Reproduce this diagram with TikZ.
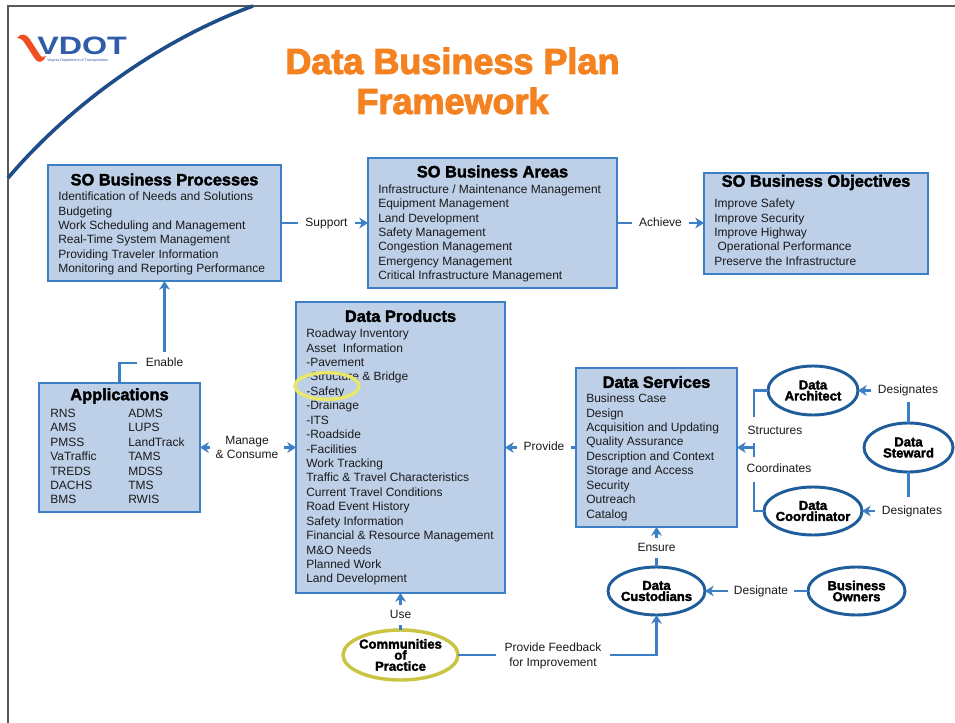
\documentclass[tikz,border=0pt]{standalone}
\usepackage{fontspec}
\setmainfont{Liberation Sans}
\newfontfamily\hd[BoldFeatures={FakeBold=2.2}]{Liberation Sans}
\newfontfamily\hdx[BoldFeatures={FakeBold=3}]{Liberation Sans}
\newfontfamily\lgf[FakeStretch=1.28]{Liberation Sans}
\usetikzlibrary{arrows.meta,shapes.geometric}
\definecolor{boxfill}{HTML}{BDD0E8}
\definecolor{boxline}{HTML}{3D7FC4}
\definecolor{ovalline}{HTML}{1F5C9A}
\definecolor{arcblue}{HTML}{1D4E89}
\definecolor{titleor}{HTML}{F58220}
\definecolor{txt}{HTML}{1A1A1A}
\definecolor{olive}{HTML}{C9C441}
\definecolor{hilite}{HTML}{E8E76C}
\definecolor{swoosh}{HTML}{EF4E23}
\definecolor{logoblue}{HTML}{2F5DA8}
\tikzset{
  x=0.75pt,y=-0.75pt,
  box/.style={draw=boxline,fill=boxfill,line width=2pt,outer sep=0pt,inner sep=0pt},
  hdg/.style={font=\hd\bfseries\fontsize{12.3}{14}\selectfont,text=black,inner sep=0pt},
  items/.style={font=\fontsize{9}{10.82}\selectfont,text=txt,align=left,anchor=north west,inner sep=0pt},
  oval/.style={ellipse,draw=ovalline,fill=white,line width=2.2pt,outer sep=0pt,inner sep=-8pt,
     font=\hd\bfseries\fontsize{9.8}{8.3}\selectfont,text=black,align=center},
  lab/.style={font=\fontsize{9}{10.8}\selectfont,text=txt,inner xsep=5pt,inner ysep=4pt,text height=7pt,text depth=2pt},
  lab2/.style={font=\fontsize{9}{10.82}\selectfont,text=txt,inner xsep=5pt,inner ysep=2pt,align=center},
  conn/.style={draw=boxline,line width=2.1pt},
  arr/.style={conn,-{Stealth[length=6.5pt,width=8pt,inset=2pt]}},
}
\begin{document}
\begin{tikzpicture}
\useasboundingbox (0,0) rectangle (955,723);
\fill[white] (0,0) rectangle (955,723);
% slide frame and arc
\draw[draw=black!65,line width=1.2pt] (8,723) -- (8,6) -- (955,6);
\draw[arcblue,line width=2.7pt] (8,178) .. controls (70,105) and (160,40) .. (253,6);
% logo
\fill[swoosh] (17,38) .. controls (20,33) and (26,34) .. (29,38) -- (40,55) .. controls (42,58) and (44,57) .. (46,56)
  .. controls (44,62) and (38,64) .. (35,59) -- (24,42) .. controls (22,39) and (19,38) .. (17,38) -- cycle;
\node[font=\lgf\bfseries\fontsize{18.9}{20}\selectfont,text=logoblue,inner sep=0pt,anchor=base west] (vdot) at (37,55) {VDOT};
\node[font=\fontsize{2.75}{3}\selectfont,text=logoblue,inner sep=0pt,anchor=west] (vdottag) at (47,60.5) {Virginia Department of Transportation};
% title
\node[font=\hdx\bfseries\fontsize{27}{30}\selectfont,text=titleor,align=center,inner sep=0pt] (title) at (452.5,81) {Data Business Plan\\Framework};
% boxes
\node[box,minimum width=174.75pt,minimum height=87pt] (bp) at (164.5,223) {};
\node[box,minimum width=186.75pt,minimum height=97.5pt] (ba) at (492.5,223) {};
\node[box,minimum width=168pt,minimum height=75.75pt] (bo) at (816,223.5) {};
\node[box,minimum width=120.75pt,minimum height=96.75pt] (apps) at (119.5,447.5) {};
\node[box,minimum width=156.75pt,minimum height=218.25pt] (dp) at (400.5,447.5) {};
\node[box,minimum width=120.75pt,minimum height=119.25pt] (ds) at (656.5,447.5) {};
% box texts
\node[hdg] (bph) at (164.5,179.5) {SO Business Processes};
\node[items] (bpi) at (58,190.3) {\strut Identification of Needs and Solutions\\Budgeting\\Work Scheduling and Management\\Real-Time System Management\\Providing Traveler Information\\Monitoring and Reporting Performance};
\node[hdg] (bah) at (492.5,171.5) {SO Business Areas};
\node[items] (bai) at (378,182.8) {\strut Infrastructure / Maintenance Management\\Equipment Management\\Land Development\\Safety Management\\Congestion Management\\Emergency Management\\Critical Infrastructure Management};
\node[hdg] (boh) at (816,182.5) {SO Business Objectives};
\node[items] (boi) at (714,197.3) {\strut Improve Safety\\Improve Security\\Improve Highway\\\hspace{2.5pt}Operational Performance\\Preserve the Infrastructure};
\node[hdg] (aph) at (119.5,396) {Applications};
\node[items] (api) at (50,407) {\strut RNS\\AMS\\PMSS\\VaTraffic\\TREDS\\DACHS\\BMS};
\node[items] (apj) at (128,407) {\strut ADMS\\LUPS\\LandTrack\\TAMS\\MDSS\\TMS\\RWIS};
\node[hdg] (dph) at (400.5,316) {Data Products};
\node[items] (dpi) at (306,327.3) {\strut Roadway Inventory\\Asset\ \ Information\\-Pavement\\-Structure \& Bridge\\-Safety\\-Drainage\\-ITS\\-Roadside\\-Facilities\\Work Tracking\\Traffic \& Travel Characteristics\\Current Travel Conditions\\Road Event History\\Safety Information\\Financial \& Resource Management\\M\&O Needs\\Planned Work\\Land Development};
\node[hdg] (dsh) at (656.5,382) {Data Services};
\node[items] (dsi) at (586,392.3) {\strut Business Case\\Design\\Acquisition and Updating\\Quality Assurance\\Description and Context\\Storage and Access\\Security\\Outreach\\Catalog};
% highlight
\node[ellipse,draw=hilite,line width=2.6pt,minimum width=48pt,minimum height=20pt,inner sep=-8pt] (safety) at (327,386) {};
% ovals
\node[oval,minimum width=67.5pt,minimum height=36.75pt] (arch) at (813,390.5) {Data\\Architect};
\node[oval,minimum width=66.75pt,minimum height=36.75pt] (stew) at (908.5,447.5) {Data\\Steward};
\node[oval,minimum width=73.5pt,minimum height=36pt] (coord) at (813,511) {Data\\Coordinator};
\node[oval,minimum width=72.75pt,minimum height=36pt] (cust) at (656.5,591) {Data\\Custodians};
\node[oval,minimum width=72.75pt,minimum height=36pt] (own) at (856.5,591) {Business\\Owners};
\node[oval,draw=olive,line width=2.6pt,minimum width=86.25pt,minimum height=37.5pt] (comm) at (400.5,655) {Communities\\of\\Practice};
% labels
\node[lab,inner xsep=5.25pt] (support) at (326.5,223) {Support};
\node[lab,inner xsep=5.25pt] (achieve) at (660.5,223) {Achieve};
\node[lab,inner xsep=6.5pt,inner ysep=3.5pt] (enable) at (164.5,363) {Enable};
\node[lab2,inner xsep=3.75pt] (manage) at (247,447.5) {Manage\\\& Consume};
\node[lab] (provide) at (544,447.5) {Provide};
\node[lab] (structures) at (775,431) {Structures};
\node[lab] (coordinates) at (779,469) {Coordinates};
\node[lab] (desa) at (908,390.5) {Designates};
\node[lab] (desb) at (912,511) {Designates};
\node[lab,inner ysep=3pt] (ensure) at (656.5,548) {Ensure};
\node[lab,inner xsep=4pt] (desg) at (761,591) {Designate};
\node[lab,inner ysep=3pt] (use) at (400.5,615) {Use};
\node[lab2,inner xsep=6pt] (feedback) at (553,656) {Provide Feedback\\for Improvement};
% free ends
\coordinate (sa) at (754,417);
\coordinate (sb) at (754,443);
\coordinate (sc) at (754,457);
\coordinate (sj) at (754,447.5);
\coordinate (sd) at (754,482);
\coordinate (ta) at (908.5,402);
\coordinate (tb) at (908.5,497);
% connectors
\draw[conn] (bp) -- (support);
\draw[arr] (support) -- (ba);
\draw[conn] (ba) -- (achieve);
\draw[arr] (achieve) -- (bo.west |- achieve);
\draw[conn] (apps.north) |- (enable.west);
\draw[arr] (enable) -- (bp);
\draw[arr] (manage) -- (apps);
\draw[arr] (manage) -- (dp);
\draw[conn] (ds) -- (provide);
\draw[arr] (provide) -- (dp);
\draw[conn] (arch.west) -| (sa);
\draw[conn] (sb) -- (sc);
\draw[arr] (sj) -- (ds.east |- sj);
\draw[conn] (sd) |- (coord.west);
\draw[arr] (desa) -- (arch);
\draw[arr] (desb) -- (coord);
\draw[conn] (stew) -- (ta);
\draw[conn] (stew) -- (tb);
\draw[conn] (cust) -- (ensure);
\draw[arr] (ensure) -- (ds);
\draw[conn] (own) -- (desg);
\draw[arr] (desg) -- (cust);
\draw[conn] (comm) -- (use);
\draw[arr] (use) -- (dp);
\draw[conn] (comm.east) -- (feedback.west |- comm.east);
\draw[arr] (feedback.east |- comm.east) -| (cust.south);
\end{tikzpicture}
\end{document}
